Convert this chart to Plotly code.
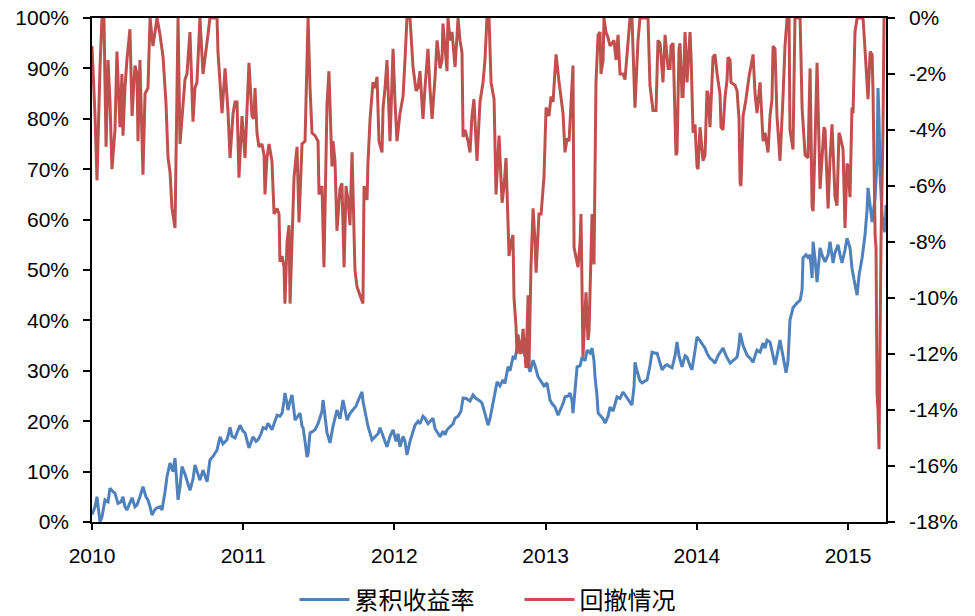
import numpy as np
import pandas as pd
import plotly.graph_objects as go

# ---- data (time in decimal years, values in %) ----
ret_t = [2010.000, 2010.020, 2010.033, 2010.046, 2010.053, 2010.066, 2010.086, 2010.106, 2010.119, 2010.139,
         2010.152, 2010.172, 2010.192, 2010.205, 2010.218, 2010.231, 2010.251, 2010.265, 2010.284, 2010.298,
         2010.317, 2010.337, 2010.357, 2010.370, 2010.384, 2010.397, 2010.417, 2010.430, 2010.450, 2010.463,
         2010.483, 2010.496, 2010.516, 2010.536, 2010.549, 2010.562, 2010.569, 2010.582, 2010.595, 2010.615,
         2010.628, 2010.648, 2010.668, 2010.681, 2010.701, 2010.714, 2010.734, 2010.747, 2010.761, 2010.780,
         2010.800, 2010.827, 2010.847, 2010.866, 2010.893, 2010.913, 2010.926, 2010.946, 2010.966, 2010.979,
         2010.999, 2011.012, 2011.038, 2011.052, 2011.065, 2011.085, 2011.098, 2011.118, 2011.131, 2011.151,
         2011.164, 2011.177, 2011.190, 2011.210, 2011.224, 2011.243, 2011.257, 2011.270, 2011.276, 2011.290,
         2011.296, 2011.310, 2011.323, 2011.336, 2011.343, 2011.362, 2011.376, 2011.389, 2011.396, 2011.409,
         2011.422, 2011.429, 2011.442, 2011.462, 2011.475, 2011.495, 2011.508, 2011.521, 2011.528, 2011.541,
         2011.554, 2011.574, 2011.594, 2011.620, 2011.640, 2011.660, 2011.673, 2011.687, 2011.706, 2011.726,
         2011.746, 2011.766, 2011.786, 2011.792, 2011.806, 2011.825, 2011.852, 2011.872, 2011.892, 2011.905,
         2011.925, 2011.951, 2011.971, 2011.991, 2012.011, 2012.024, 2012.037, 2012.057, 2012.070, 2012.083,
         2012.103, 2012.123, 2012.136, 2012.156, 2012.169, 2012.189, 2012.202, 2012.222, 2012.235, 2012.255,
         2012.269, 2012.288, 2012.302, 2012.321, 2012.335, 2012.348, 2012.368, 2012.388, 2012.401, 2012.421,
         2012.440, 2012.454, 2012.474, 2012.500, 2012.520, 2012.540, 2012.566, 2012.579, 2012.599, 2012.619,
         2012.632, 2012.652, 2012.665, 2012.679, 2012.698, 2012.718, 2012.731, 2012.751, 2012.765, 2012.784,
         2012.798, 2012.817, 2012.831, 2012.851, 2012.864, 2012.884, 2012.897, 2012.917, 2012.930, 2012.950,
         2012.970, 2012.989, 2013.009, 2013.029, 2013.042, 2013.062, 2013.082, 2013.095, 2013.115, 2013.128,
         2013.148, 2013.161, 2013.175, 2013.181, 2013.194, 2013.208, 2013.228, 2013.241, 2013.261, 2013.274,
         2013.294, 2013.307, 2013.320, 2013.327, 2013.340, 2013.347, 2013.366, 2013.380, 2013.393, 2013.413,
         2013.426, 2013.446, 2013.472, 2013.492, 2013.512, 2013.532, 2013.552, 2013.571, 2013.585, 2013.591,
         2013.604, 2013.624, 2013.638, 2013.657, 2013.671, 2013.690, 2013.704, 2013.724, 2013.737, 2013.757,
         2013.770, 2013.790, 2013.803, 2013.823, 2013.836, 2013.856, 2013.869, 2013.882, 2013.902, 2013.922,
         2013.935, 2013.955, 2013.968, 2013.988, 2014.001, 2014.021, 2014.034, 2014.054, 2014.067, 2014.087,
         2014.107, 2014.120, 2014.140, 2014.153, 2014.173, 2014.193, 2014.220, 2014.239, 2014.266, 2014.279,
         2014.286, 2014.306, 2014.319, 2014.332, 2014.352, 2014.372, 2014.385, 2014.398, 2014.418, 2014.438,
         2014.451, 2014.464, 2014.484, 2014.504, 2014.517, 2014.530, 2014.550, 2014.563, 2014.577, 2014.590,
         2014.603, 2014.616, 2014.636, 2014.663, 2014.683, 2014.696, 2014.702, 2014.722, 2014.735, 2014.749,
         2014.762, 2014.769, 2014.782, 2014.795, 2014.815, 2014.828, 2014.848, 2014.868, 2014.881, 2014.901,
         2014.914, 2014.934, 2014.947, 2014.960, 2014.980, 2014.993, 2015.013, 2015.026, 2015.040, 2015.046,
         2015.060, 2015.073, 2015.093, 2015.112, 2015.126, 2015.132, 2015.146, 2015.159, 2015.179, 2015.192,
         2015.198, 2015.205, 2015.212, 2015.225, 2015.238, 2015.245, 2015.251]
ret_v = [1.5, 3, 5, 2, 0, 1, 4.4, 4, 6.7, 6,
         5.7, 3.7, 4, 5, 3, 2.4, 4, 4.8, 3, 3.4,
         5, 7, 5, 4.4, 3, 1.4, 2.5, 2.8, 3, 2.4,
         6, 9, 11.7, 10, 12.7, 8, 4.4, 7, 11, 9.5,
         8.3, 6.3, 8.5, 11.3, 9.5, 8.3, 10.3, 9, 8, 12.3,
         13, 14.3, 16.9, 15.5, 16.3, 18.8, 17, 16.7, 18.5, 19.2,
         18, 17.7, 14.7, 16, 16.9, 16, 16.3, 17.5, 18.7, 18.5,
         19.6, 19, 18.3, 20, 21.2, 21, 21.6, 24, 25.6, 23.5,
         22.2, 24, 25.2, 22, 20.2, 21, 21.6, 19, 18.7, 16,
         12.9, 13.5, 17.7, 18, 18.3, 19.5, 20.8, 22, 24.2, 21,
         17.7, 15.7, 19, 22.2, 20.5, 24.2, 22, 20.2, 21.5, 22.2,
         23, 24.5, 25.8, 24, 21.6, 19, 16.3, 17, 17.5, 18.7,
         17, 14.9, 17, 18.3, 16, 17.5, 14.9, 17, 16, 13.3,
         16, 18, 19.2, 20, 19.5, 21, 20.6, 19.5, 20, 20.6,
         18.5, 17.5, 16.9, 18, 17.3, 18.3, 19, 19.5, 20.6, 21,
         22, 24.6, 24.5, 24, 25.2, 24.5, 24, 23.6, 21.5, 19.2,
         20.5, 23.6, 25.5, 27.8, 27, 28.2, 27.5, 30.8, 30, 32.7,
         32.5, 35.5, 33.7, 34.1, 33, 31, 29.8, 32.1, 31, 28.8,
         28, 27, 27.6, 24.2, 23.5, 22.8, 21.2, 22, 23.5, 24.8,
         25, 25.6, 24, 21.6, 26, 30.8, 31, 32.7, 32, 34.1,
         33.5, 34.5, 32, 28.6, 25, 21.6, 21, 20.5, 19.6, 21,
         22.8, 22, 24.8, 24.5, 25.8, 25, 24, 23.2, 27, 31.7,
         30, 28, 27.6, 28, 28.2, 31, 33.7, 33.5, 33.5, 31.5,
         30.2, 31, 31.2, 30.8, 30.6, 33, 35.7, 33, 30.8, 33,
         32.7, 31, 30.2, 34, 36.7, 36, 35.5, 34.5, 33.5, 32.5,
         32, 31.5, 33, 33.5, 34.5, 33, 31.5, 32, 32.7, 35,
         37.5, 35, 34, 33.1, 32.5, 31.7, 33, 34.1, 33.7, 35.5,
         34.5, 36.1, 35.7, 33, 31.2, 33, 36.1, 34, 31.5, 29.6,
         32, 40.1, 42.5, 43.5, 44, 46, 52.4, 53, 52.5, 53,
         48.4, 55.6, 52, 47.6, 54.4, 53, 51.6, 53, 55.6, 51.4,
         53.5, 55, 53, 51.4, 54, 56.3, 54.4, 50.4, 48, 47,
         45, 49, 52.4, 56.9, 62, 66.3, 63, 59.5, 64.3, 72,
         86.1, 80, 68.8, 60.9, 58, 57.5, 62.9]

dd_t = [2010.000, 2010.013, 2010.020, 2010.033, 2010.046, 2010.053, 2010.066, 2010.079, 2010.093, 2010.106,
        2010.119, 2010.132, 2010.152, 2010.165, 2010.185, 2010.198, 2010.205, 2010.218, 2010.231, 2010.251,
        2010.265, 2010.284, 2010.298, 2010.304, 2010.317, 2010.337, 2010.351, 2010.370, 2010.384, 2010.403,
        2010.417, 2010.430, 2010.450, 2010.470, 2010.489, 2010.503, 2010.516, 2010.529, 2010.549, 2010.562,
        2010.569, 2010.582, 2010.595, 2010.615, 2010.628, 2010.648, 2010.668, 2010.681, 2010.694, 2010.714,
        2010.734, 2010.747, 2010.767, 2010.780, 2010.827, 2010.833, 2010.847, 2010.860, 2010.880, 2010.899,
        2010.913, 2010.933, 2010.946, 2010.959, 2010.972, 2010.992, 2011.012, 2011.025, 2011.038, 2011.058,
        2011.071, 2011.078, 2011.091, 2011.104, 2011.124, 2011.138, 2011.144, 2011.157, 2011.171, 2011.190,
        2011.204, 2011.224, 2011.237, 2011.243, 2011.257, 2011.270, 2011.276, 2011.290, 2011.303, 2011.310,
        2011.323, 2011.336, 2011.356, 2011.369, 2011.389, 2011.409, 2011.422, 2011.429, 2011.442, 2011.455,
        2011.475, 2011.495, 2011.501, 2011.521, 2011.534, 2011.554, 2011.567, 2011.587, 2011.594, 2011.607,
        2011.620, 2011.640, 2011.653, 2011.667, 2011.680, 2011.693, 2011.706, 2011.720, 2011.739, 2011.753,
        2011.772, 2011.792, 2011.799, 2011.819, 2011.825, 2011.839, 2011.858, 2011.872, 2011.885, 2011.898,
        2011.918, 2011.925, 2011.938, 2011.951, 2011.971, 2011.991, 2012.004, 2012.017, 2012.037, 2012.057,
        2012.070, 2012.083, 2012.103, 2012.123, 2012.143, 2012.156, 2012.169, 2012.189, 2012.202, 2012.222,
        2012.235, 2012.249, 2012.269, 2012.282, 2012.302, 2012.315, 2012.321, 2012.335, 2012.348, 2012.354,
        2012.368, 2012.381, 2012.401, 2012.421, 2012.434, 2012.447, 2012.454, 2012.467, 2012.487, 2012.500,
        2012.513, 2012.526, 2012.546, 2012.566, 2012.586, 2012.599, 2012.612, 2012.626, 2012.639, 2012.659,
        2012.672, 2012.692, 2012.712, 2012.725, 2012.738, 2012.758, 2012.771, 2012.784, 2012.791, 2012.804,
        2012.811, 2012.817, 2012.831, 2012.837, 2012.851, 2012.864, 2012.870, 2012.884, 2012.890, 2012.903,
        2012.917, 2012.930, 2012.937, 2012.956, 2012.970, 2012.989, 2013.003, 2013.022, 2013.036, 2013.049,
        2013.062, 2013.069, 2013.089, 2013.102, 2013.115, 2013.128, 2013.142, 2013.155, 2013.168, 2013.181,
        2013.188, 2013.201, 2013.214, 2013.228, 2013.234, 2013.247, 2013.261, 2013.267, 2013.280, 2013.287,
        2013.307, 2013.320, 2013.333, 2013.347, 2013.360, 2013.366, 2013.380, 2013.386, 2013.399, 2013.413,
        2013.426, 2013.439, 2013.452, 2013.466, 2013.479, 2013.492, 2013.512, 2013.525, 2013.545, 2013.558,
        2013.571, 2013.591, 2013.611, 2013.624, 2013.677, 2013.690, 2013.710, 2013.730, 2013.743, 2013.757,
        2013.776, 2013.790, 2013.810, 2013.823, 2013.829, 2013.843, 2013.862, 2013.869, 2013.882, 2013.889,
        2013.902, 2013.909, 2013.922, 2013.935, 2013.955, 2013.962, 2013.975, 2013.988, 2014.001, 2014.008,
        2014.021, 2014.041, 2014.054, 2014.067, 2014.074, 2014.087, 2014.107, 2014.120, 2014.134, 2014.153,
        2014.160, 2014.173, 2014.187, 2014.200, 2014.206, 2014.220, 2014.226, 2014.253, 2014.266, 2014.279,
        2014.286, 2014.292, 2014.306, 2014.325, 2014.345, 2014.372, 2014.385, 2014.398, 2014.418, 2014.438,
        2014.451, 2014.471, 2014.484, 2014.497, 2014.504, 2014.517, 2014.530, 2014.550, 2014.570, 2014.583,
        2014.597, 2014.610, 2014.616, 2014.636, 2014.649, 2014.683, 2014.696, 2014.716, 2014.735, 2014.749,
        2014.762, 2014.769, 2014.782, 2014.795, 2014.815, 2014.828, 2014.841, 2014.848, 2014.868, 2014.881,
        2014.894, 2014.914, 2014.927, 2014.940, 2014.947, 2014.967, 2014.980, 2014.993, 2015.000, 2015.013,
        2015.026, 2015.033, 2015.040, 2015.046, 2015.060, 2015.099, 2015.112, 2015.126, 2015.132, 2015.146,
        2015.159, 2015.165, 2015.172, 2015.179, 2015.185, 2015.192, 2015.198, 2015.205, 2015.218, 2015.231,
        2015.238]
dd_v = [-1, -2.5, -3.5, -5.8, -3, -1.75, 0, 0, -4.6, -1.5,
        -3, -5.4, -4, -1.2, -3.9, -2, -4.2, -2.5, -1.5, -0.4,
        -3.5, -1.7, -2, -4.4, -1.5, -5.6, -2.7, -2.5, 0, -1,
        -0.5, 0, -0.6, -1.4, -3, -5, -5.5, -6.8, -7.5, -3,
        0, -4.5, -3.5, -2.2, -2, -0.5, -3.7, -2.5, -2.3, 0,
        -2, -1.5, -0.6, 0, 0, -1.2, -2.5, -3.4, -1.8, -3.3,
        -5, -3.4, -3, -3, -5.7, -3.5, -5, -3, -1.6, -3.5,
        -3.6, -2.5, -4.1, -4.6, -4.5, -4.9, -6.3, -5, -4.5, -5.1,
        -7, -6.8, -7, -8.7, -8.5, -8.9, -10.2, -8, -7.4, -10.2,
        -8, -5.7, -4.6, -7.3, -4.5, -4.4, -1.5, 0, -2.5, -4.1,
        -4.2, -4.4, -6.3, -6, -8.9, -3.1, -1.9, -5.3, -4.4, -5.1,
        -7.6, -6.1, -5.9, -8.9, -6, -6.5, -7.4, -4.8, -9, -9.6,
        -9.9, -10.2, -6, -6.5, -5.2, -3.6, -2.3, -2.5, -2.1, -4.4,
        -4.8, -3.2, -2.5, -1.5, -4.4, -1.1, -3, -4.4, -3.4, -2.8,
        -1.5, 0, 0, -1.75, -2.6, -2.5, -1.9, -3.6, -2.5, -1.1,
        -2.5, -3.6, -2.1, -0.8, -1.8, -1.5, -0.2, -1, -1.9, 0,
        -0.8, -0.5, -1.75, 0, -0.8, -1.25, -4.25, -4, -4.4, -4.8,
        -3.5, -2.9, -5.1, -3, -2.3, -1.5, 0, 0, -2.3, -2.9,
        -6.3, -4.2, -6.6, -6, -5, -8.5, -8, -7.75, -10, -11,
        -12, -11.3, -11.8, -12, -11.1, -12, -12.5, -9.9, -12.5, -8.9,
        -6.8, -8, -9.1, -7, -7, -5.7, -3.2, -3.5, -2.8, -3,
        -1.8, -1.3, -2.3, -2.8, -3.4, -4.8, -4.3, -4.4, -3, -1.7,
        -8.2, -8.5, -8.9, -8, -7, -12.1, -10.5, -9.8, -11.5, -11.2,
        -7, -8.8, -2.3, -0.6, -0.5, -2, -1.5, 0, -0.5, -0.7,
        -1, -0.9, -0.8, -1.5, -0.6, -2, -2, -2.2, -1, 0,
        0, -3.2, -0.8, 0, 0, -2.4, -3.3, -3.3, -0.8, -0.9,
        -2.3, -0.6, -1.8, -1.8, -1, -0.9, -4.9, -4.8, -1.1, -0.9,
        -2.8, -2.8, -0.5, -2.3, -0.5, -1.4, -4.1, -3.8, -5.3, -5.4,
        -3.9, -5.1, -4.9, -2.6, -2.7, -3.9, -1.4, -1.3, -2, -2.7,
        -3.9, -4, -2.8, -2.2, -1.4, -1.5, -2.3, -2.4, -2.6, -3.6,
        -5.9, -6, -3.5, -2.9, -2.1, -1.3, -2.7, -3.4, -2.3, -4.4,
        -4.1, -4.8, -3.5, -2.9, -1, -1.1, -3.5, -5.1, -2.8, -1,
        0, 0, -4, -4.7, 0, 0, -3.2, -4.9, -5, -1.8,
        -6.75, -6.9, -4.4, -1.6, -6.1, -5, -3.9, -4, -6.8, -5,
        -3.8, -6.4, -6.7, -4.1, -4.2, -4.7, -7.5, -5.2, -5.3, -6.4,
        -3.2, -3.4, -1.3, -0.5, 0, 0, -1.1, -2.5, -2.9, -1.2,
        -1.3, -2.6, -6, -7.75, -8.2, -13.4, -14, -15.4, -8, -4,
        0]

x_start = 2010.0
x_end = 2015.251
year_ticks = [2010, 2011, 2012, 2013, 2014, 2015]

series_names = ["累积收益率", "回撤情况"]
left_ticks = list(range(0, 101, 10))
right_ticks = list(range(-18, 1, 2))

base = pd.Timestamp("2010-01-01")


def to_date(t):
    return base + pd.to_timedelta((np.asarray(t, dtype=float) - 2010.0) * 365.25, unit="D")


BLUE = "#4F81BD"
RED = "#C0504D"
FONT = "Liberation Sans, Arial, sans-serif"

fig = go.Figure()
fig.add_trace(go.Scatter(x=to_date(ret_t), y=ret_v, mode="lines", name=series_names[0],
                         line=dict(color=BLUE, width=3), yaxis="y"))
fig.add_trace(go.Scatter(x=to_date(dd_t), y=dd_v, mode="lines", name=series_names[1],
                         line=dict(color=RED, width=3), yaxis="y2"))

fig.update_layout(
    width=975, height=616,
    margin=dict(l=92, r=89, t=18, b=94, autoexpand=False),
    paper_bgcolor="white", plot_bgcolor="white",
    font=dict(family=FONT, size=21, color="black"),
    showlegend=True,
    legend=dict(orientation="h", x=0.255, xanchor="left",
                yref="container", y=0.026, yanchor="middle",
                font=dict(family="Noto Sans CJK SC", size=24, color="black"),
                itemwidth=50, entrywidth=160, entrywidthmode="pixels",
                traceorder="normal", bgcolor="rgba(0,0,0,0)"),
    xaxis=dict(
        type="date", automargin=False,
        range=[to_date([x_start])[0], to_date([x_end])[0]],
        tickvals=list(to_date(year_ticks)),
        ticktext=[str(y) for y in year_ticks],
        showgrid=False, zeroline=False,
        showline=True, linecolor="black", linewidth=1.5, mirror=True,
        ticks="outside", ticklen=6, tickwidth=1.5, tickcolor="black",
        ticklabelstandoff=8,
        tickfont=dict(family=FONT, size=21, color="black"),
    ),
    yaxis=dict(
        automargin=False, ticklabeloverflow="allow",
        range=[0, 100], tickvals=left_ticks, ticktext=[f"{v}%" for v in left_ticks],
        showgrid=False, zeroline=False,
        showline=True, linecolor="black", linewidth=1.5,
        ticks="outside", ticklen=7, tickwidth=1.5, tickcolor="black",
        ticklabelstandoff=10,
        tickfont=dict(family=FONT, size=21, color="black"),
    ),
    yaxis2=dict(
        automargin=False, ticklabeloverflow="allow",
        range=[-18, 0], tickvals=right_ticks, ticktext=[f"{v}%" for v in right_ticks],
        overlaying="y", side="right",
        showgrid=False, zeroline=False,
        showline=True, linecolor="black", linewidth=1.5,
        ticks="outside", ticklen=7, tickwidth=1.5, tickcolor="black",
        ticklabelstandoff=10,
        tickfont=dict(family=FONT, size=21, color="black"),
    ),
)

# remove the browser's default 8px body margin so the figure sits at the page origin
fig.write_html("out.html", config={"displayModeBar": False},
               post_script="document.body.style.margin='0';")
